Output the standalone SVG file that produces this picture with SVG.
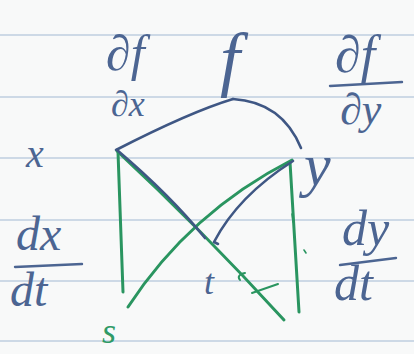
<svg xmlns="http://www.w3.org/2000/svg" width="414" height="354" viewBox="0 0 414 354">
<style>
.rule{stroke:#cdd9e6;stroke-width:2;fill:none}
.ink{fill:#4c6592;font-family:"Liberation Serif","DejaVu Serif",serif;font-style:italic}
.gtext{fill:#2f9a66;font-family:"Liberation Serif","DejaVu Serif",serif;font-style:italic}
.b{stroke:#3f5784;stroke-width:2.6;fill:none;stroke-linecap:round;stroke-linejoin:round}
.g{stroke:#2a9560;stroke-width:3;fill:none;stroke-linecap:round;stroke-linejoin:round}
.bar{stroke:#4c6592;stroke-width:2.4;fill:none;stroke-linecap:round}
</style>
<rect width="414" height="354" fill="#f8f9f9"/>
<g id="paper">
<line class="rule" x1="0" y1="35" x2="414" y2="35"/>
<line class="rule" x1="0" y1="97" x2="414" y2="97"/>
<line class="rule" x1="0" y1="158" x2="414" y2="158"/>
<line class="rule" x1="0" y1="220" x2="414" y2="220"/>
<line class="rule" x1="0" y1="281" x2="414" y2="281"/>
<line class="rule" x1="0" y1="341" x2="414" y2="341"/>
</g>
<g id="connectors">
<path class="b" d="M233,99 Q 190,112 116,150"/>
<path class="b" d="M233,99 Q 282,102 301,148"/>
<path class="g" d="M118,152 L 123,292"/>
<path class="g" d="M290,162 L 299,312"/>
<path class="g" d="M117,151 Q 200,228 284,320"/>
<path class="g" d="M128,307 Q 190,212 292,160"/>
<path class="b" d="M117,150 Q 170,195 205,238"/>
<path class="b" d="M293,161 Q 238,196 214,242 L 218,244"/>
<path class="g" d="M292,214 L 293,222 M 304,250 L 306,253" style="stroke-width:1.6"/>
</g>
<g id="node-f"><text class="ink" x="220" y="83" font-size="72">f</text></g>
<g id="node-x"><text class="ink" x="26" y="167" font-size="40">x</text></g>
<g id="node-y"><text class="ink" x="304" y="185" font-size="60">y</text></g>
<g id="node-t">
<text class="ink" x="204" y="294" font-size="36">t</text>
<path class="g" d="M245,273 Q 236,275 240,280 M 252,293 L 278,284" style="stroke-width:2"/>
</g>
<g id="node-s"><text class="gtext" x="102" y="343" font-size="36">s</text></g>
<g id="label-dfdx">
<text class="ink" x="106" y="70" font-size="50">∂f</text>
<text class="ink" x="111" y="116" font-size="36">∂x</text>
</g>
<g id="label-dfdy">
<text class="ink" x="335" y="72" font-size="52">∂f</text>
<line class="bar" x1="330" y1="86" x2="402" y2="82"/>
<text class="ink" x="340" y="124" font-size="44">∂y</text>
</g>
<g id="label-dxdt">
<text class="ink" x="16" y="250" font-size="48">dx</text>
<line class="bar" x1="15" y1="267" x2="82" y2="264"/>
<text class="ink" x="10" y="306" font-size="48">dt</text>
</g>
<g id="label-dydt">
<text class="ink" x="342" y="245" font-size="50">dy</text>
<line class="bar" x1="340" y1="265" x2="396" y2="258"/>
<text class="ink" x="334" y="300" font-size="50">dt</text>
</g>
</svg>
